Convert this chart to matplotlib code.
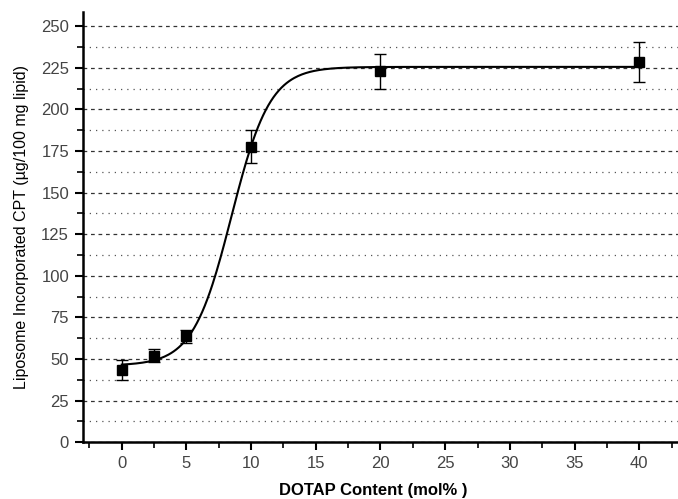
import matplotlib
matplotlib.use('Agg')
import matplotlib.pyplot as plt
import numpy as np
from matplotlib.ticker import MultipleLocator

plt.rcParams['font.family'] = ['Liberation Sans', 'DejaVu Sans']

dotap = [0, 2.5, 5, 10, 20, 40]
cpt = [43.5, 52, 63.5, 177.5, 223, 228.5]
cpt_err = [6, 4, 4, 10, 10.5, 12]

# Boltzmann fit parameters (A1, A2, x0, dx)
A1, A2, x0, dx = 46.0, 225.5, 8.48, 1.49


def boltzmann(x):
    return A2 + (A1 - A2) / (1 + np.exp((x - x0) / dx))


fig = plt.figure(figsize=(6.78, 4.99), dpi=100)
ax = fig.add_axes([0.1224, 0.114, 0.8776, 0.862])

xs = np.linspace(0, 40, 400)
ax.plot(xs, boltzmann(xs), color='black', lw=1.5, zorder=3)
ax.errorbar(dotap, cpt, yerr=cpt_err, fmt='s', color='black', ms=7,
            ecolor='black', elinewidth=1, capsize=4, capthick=1, zorder=4)

ax.set_xlim(-3, 43)
ax.set_ylim(0, 258.5)
ax.xaxis.set_major_locator(MultipleLocator(5))
ax.xaxis.set_minor_locator(MultipleLocator(2.5))
ax.yaxis.set_major_locator(MultipleLocator(25))
ax.yaxis.set_minor_locator(MultipleLocator(12.5))

ax.grid(which='major', axis='y', ls=(0, (3, 3)), color='#333333', lw=0.9)
ax.grid(which='minor', axis='y', ls=(0, (1, 4)), color='#555555', lw=0.9)
ax.set_axisbelow(True)

for s in ['top', 'right']:
    ax.spines[s].set_visible(False)
for s in ['left', 'bottom']:
    ax.spines[s].set_linewidth(1.8)

ax.tick_params(which='major', direction='out', length=6, width=1.5,
               labelsize=12, labelcolor='#444444', pad=4)
ax.tick_params(which='minor', direction='out', length=4, width=1.2)

ax.set_xlabel('DOTAP Content (mol% )', fontsize=12, fontweight='bold')
ax.xaxis.set_label_coords(0.487, -0.095)
ax.set_ylabel('Liposome Incorporated CPT (µg/100 mg lipid)', fontsize=11.5)
ax.yaxis.set_label_coords(-0.09, 0.5)

fig.savefig('out.png', dpi=100)
